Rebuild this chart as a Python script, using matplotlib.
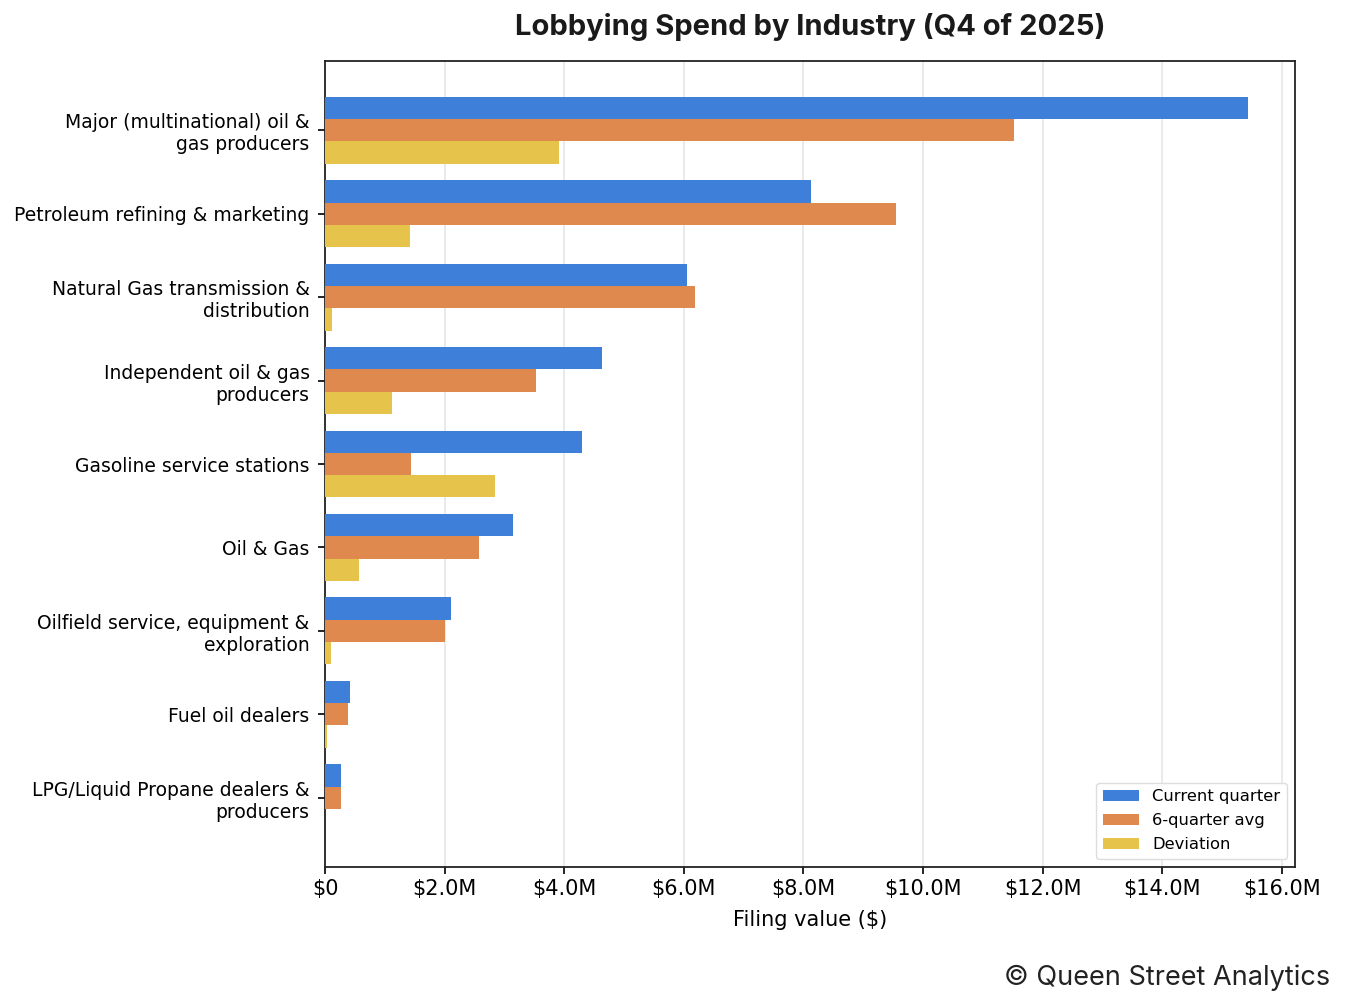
import matplotlib
matplotlib.use("Agg")
import matplotlib.pyplot as plt
import numpy as np
from matplotlib.ticker import FuncFormatter

plt.rcParams['font.family'] = ['DejaVu Sans']

categories = [
    "Major (multinational) oil &\ngas producers",
    "Petroleum refining & marketing",
    "Natural Gas transmission &\ndistribution",
    "Independent oil & gas\nproducers",
    "Gasoline service stations",
    "Oil & Gas",
    "Oilfield service, equipment &\nexploration",
    "Fuel oil dealers",
    "LPG/Liquid Propane dealers &\nproducers",
]
current_quarter = [15.43, 8.12, 6.06, 4.64, 4.29, 3.14, 2.10, 0.42, 0.27]
six_quarter_avg = [11.52, 9.54, 6.18, 3.52, 1.44, 2.57, 2.00, 0.38, 0.27]
deviation = [3.91, 1.42, 0.12, 1.12, 2.85, 0.57, 0.10, 0.04, 0.00]
series_names = ["Current quarter", "6-quarter avg", "Deviation"]
colors = ["#3d7fd9", "#e0894f", "#e6c44c"]

fig = plt.figure(figsize=(13.45, 10.08), dpi=100)
ax = fig.add_axes([325/1345, 1 - 867/1008, (1295-325)/1345, (867-61)/1008])

y = np.arange(len(categories))
h = 0.8 / 3
for i, (vals, name, c) in enumerate(zip([current_quarter, six_quarter_avg, deviation], series_names, colors)):
    ax.barh(y + (i - 1) * h, np.array(vals) * 1e6, height=h, color=c, label=name, zorder=3)

ax.set_yticks(y)
ax.set_yticklabels(categories, fontsize=13.5)
ax.set_ylim(len(categories) - 1 + 0.83, -0.83)
ax.set_xlim(0, 16.22e6)
ax.set_xticks(np.arange(0, 16.1e6, 2e6))
ax.xaxis.set_major_formatter(FuncFormatter(lambda v, p: "$0" if v == 0 else f"${v/1e6:.1f}M"))
ax.tick_params(axis="x", labelsize=15, length=5, width=1.2)
ax.tick_params(axis="y", length=5, width=1.2, pad=6)
ax.grid(axis="x", color="#e6e6e6", linewidth=1.2, zorder=0)
for s in ax.spines.values():
    s.set_color("#222222")
    s.set_linewidth(1.3)
ax.set_xlabel("Filing value ($)", fontsize=15, labelpad=8)

ax.legend(loc="lower right", fontsize=11.8, frameon=True, framealpha=1, edgecolor="#dddddd",
          handlelength=2.2, borderpad=0.4, labelspacing=0.55)

fig.text(0.5 * (325 + 1295) / 1345, 1 - 27/1008, "Lobbying Spend by Industry (Q4 of 2025)",
         family="Inter", fontweight="bold", fontsize=21, ha="center", va="center", color="#1a1a1a")
fig.text(1330/1345, 1 - 978/1008, "© Queen Street Analytics", family="Inter", fontsize=19.5,
         ha="right", va="center", color="#222222")

fig.savefig("out.png", dpi=100)
